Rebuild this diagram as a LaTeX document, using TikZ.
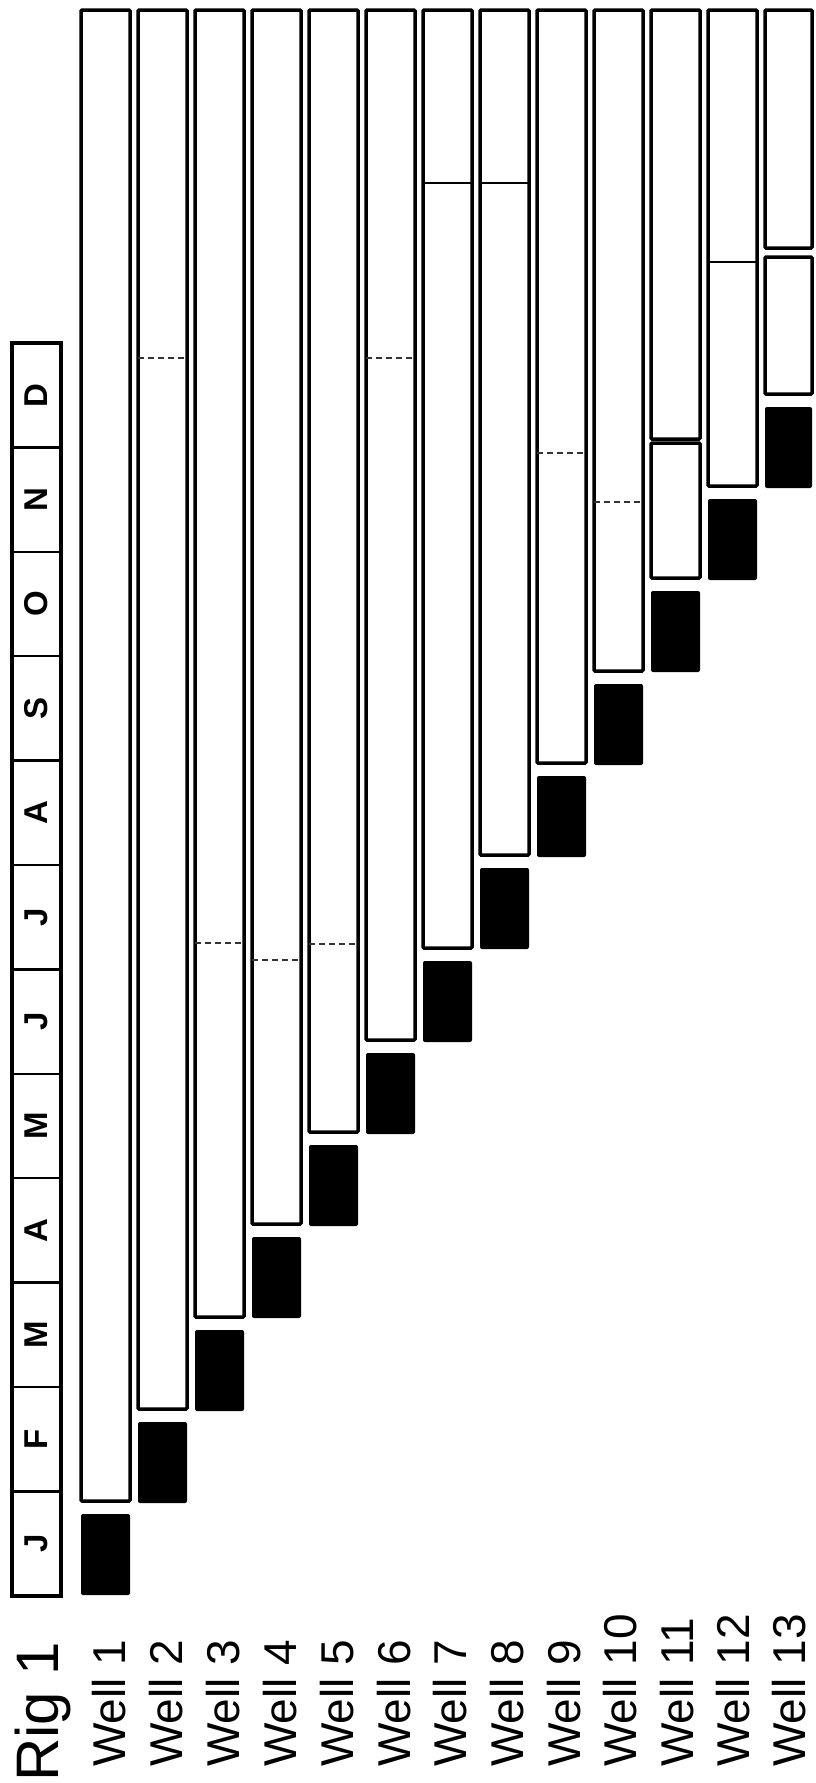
\documentclass[tikz,border=0pt]{standalone}
\usepackage{fontspec}
\setmainfont{Liberation Sans}
\usetikzlibrary{positioning}
\tikzstyle{month} = [draw, line width=2.5pt, rotate=90, minimum width=104.4pt, minimum height=49pt, inner sep=0pt, font=\fontsize{33}{33}\selectfont\bfseries]
\tikzstyle{bar} = [draw, fill=white, line width=3.5pt, rounded corners=1pt]
\tikzstyle{rigmove} = [fill=black, rounded corners=2pt]
\tikzstyle{wellname} = [rotate=90, anchor=base west, inner sep=0pt, font=\fontsize{46}{46}\selectfont]
\tikzstyle{split} = [line width=1.3pt, dash pattern=on 6pt off 4pt, black!80]
\tikzstyle{cut} = [line width=1.5pt]

\begin{document}
\begin{tikzpicture}[x=1pt, y=-1pt]
    \useasboundingbox (0,0) rectangle (815,1783);
    % month header
    \node[month] (dec) at (36.5,395.2) {D};
    \node[month] (nov) at (36.5,499.6) {N};
    \node[month] (oct) at (36.5,604.0) {O};
    \node[month] (sep) at (36.5,708.4) {S};
    \node[month] (aug) at (36.5,812.8) {A};
    \node[month] (jul) at (36.5,917.2) {J};
    \node[month] (jun) at (36.5,1021.6) {J};
    \node[month] (may) at (36.5,1126.0) {M};
    \node[month] (apr) at (36.5,1230.4) {A};
    \node[month] (mar) at (36.5,1334.8) {M};
    \node[month] (feb) at (36.5,1439.2) {F};
    \node[month] (jan) at (36.5,1543.6) {J};
    \draw[line width=4pt] (12,343) rectangle (61,1596);
    % wells
    \draw[bar] (81,10) rectangle (130,1501);
    \fill[rigmove] (81,1514) rectangle (130,1595);
    \draw[bar] (138,10) rectangle (187,1409);
    \draw[split] (138,358) -- (187,358);
    \fill[rigmove] (138,1422) rectangle (187,1503);
    \draw[bar] (195,10) rectangle (244,1317);
    \draw[split] (195,943) -- (244,943);
    \fill[rigmove] (195,1330) rectangle (244,1411);
    \draw[bar] (252,10) rectangle (301,1224);
    \draw[split] (252,960) -- (301,960);
    \fill[rigmove] (252,1237) rectangle (301,1318);
    \draw[bar] (309,10) rectangle (358,1132);
    \draw[split] (309,944) -- (358,944);
    \fill[rigmove] (309,1145) rectangle (358,1226);
    \draw[bar] (366,10) rectangle (415,1040);
    \draw[split] (366,358) -- (415,358);
    \fill[rigmove] (366,1053) rectangle (415,1134);
    \draw[bar] (423,10) rectangle (472,948);
    \draw[cut] (423,183) -- (472,183);
    \fill[rigmove] (423,961) rectangle (472,1042);
    \draw[bar] (480,10) rectangle (529,855);
    \draw[cut] (480,183) -- (529,183);
    \fill[rigmove] (480,868) rectangle (529,949);
    \draw[bar] (537,10) rectangle (586,763);
    \draw[split] (537,453) -- (586,453);
    \fill[rigmove] (537,776) rectangle (586,857);
    \draw[bar] (594,10) rectangle (643,671);
    \draw[split] (594,502) -- (643,502);
    \fill[rigmove] (594,684) rectangle (643,765);
    \draw[bar] (651,10) rectangle (700,439);
    \draw[bar] (651,443) rectangle (700,578);
    \fill[rigmove] (651,591) rectangle (700,672);
    \draw[bar] (708,10) rectangle (757,486);
    \draw[cut] (708,262) -- (757,262);
    \fill[rigmove] (708,499) rectangle (757,580);
    \draw[bar] (765,10) rectangle (812,248);
    \draw[bar] (765,257) rectangle (812,394);
    \fill[rigmove] (765,407) rectangle (812,488);
    % labels
    \node[wellname, font=\fontsize{60}{60}\selectfont] (rig) at (58,1782) {Rig 1};
    \node[wellname] (w1) at (125,1767) {Well 1};
    \node[wellname] (w2) at (182,1767) {Well 2};
    \node[wellname] (w3) at (239,1767) {Well 3};
    \node[wellname] (w4) at (296,1767) {Well 4};
    \node[wellname] (w5) at (353,1767) {Well 5};
    \node[wellname] (w6) at (410,1767) {Well 6};
    \node[wellname] (w7) at (466,1767) {Well 7};
    \node[wellname] (w8) at (523,1767) {Well 8};
    \node[wellname] (w9) at (580,1767) {Well 9};
    \node[wellname] (w10) at (636,1767) {Well 10};
    \node[wellname] (w11) at (693,1767) {Well 11};
    \node[wellname] (w12) at (749,1767) {Well 12};
    \node[wellname] (w13) at (805,1767) {Well 13};
\end{tikzpicture}
\end{document}
